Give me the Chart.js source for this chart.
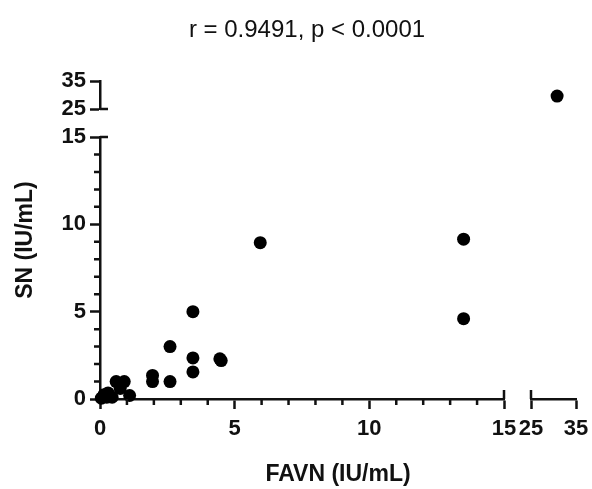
<!DOCTYPE html>
<html>
<head>
<meta charset="utf-8">
<script src="https://cdn.jsdelivr.net/npm/chart.js@4"></script>
<style>
  html, body { margin: 0; padding: 0; background: #fff; }
  #wrap { width: 592px; height: 489px; }
</style>
</head>
<body>
<div id="wrap"><canvas id="chart"></canvas></div>
<script>
// FAVN vs SN titres (IU/mL)
const favn = [0.05, 0.15, 0.25, 0.35, 0.45, 0.3, 1.1, 0.6, 0.9, 0.75,
  1.95, 1.95, 2.6, 2.6, 3.45, 3.45, 3.45, 4.45, 4.5, 5.95, 13.5, 13.5];
const sn = [0.05, 0.25, 0.1, 0.2, 0.1, 0.35, 0.2, 1.0, 1.0, 0.6,
  1.35, 1.0, 3.0, 1.0, 5.0, 2.35, 1.55, 2.3, 2.2, 8.95, 9.15, 4.6];
// the one sample above the axis breaks
const favnHigh = [30.8];
const snHigh = [29.6];

const xTicks = [0, 5, 10, 15];
const xUpperTicks = [25, 35];
const yTicks = [0, 5, 10, 15];
const yUpperTicks = [25, 35];
const minorTicks = [1, 2, 3, 4, 6, 7, 8, 9, 11, 12, 13, 14];
const subtitle = 'r = 0.9491, p < 0.0001';

const INK = '#111';
const DOT = '#000';
const AXIS_W = 2.5;
Chart.defaults.font.family = "'Liberation Sans', Arial, sans-serif";
Chart.defaults.color = INK;

const tickFont = { size: 22, weight: 'bold' };
const setTicks = arr => scale => { scale.ticks = arr.map(v => ({ value: v })); };
const fixWidth = w => scale => { scale.width = w; };
// x segments: fixed height, and no label overhang eating into the plot width
const fixHeight = h => scale => {
  scale.height = h;
  scale.paddingLeft = 0;
  scale.paddingRight = 0;
};

// one segment of a broken axis
function segment(axis, pos, stack, weight, stackWeight, min, max, ticks) {
  return {
    type: 'linear', axis: axis, position: pos, stack: stack,
    weight: weight, stackWeight: stackWeight,
    min: min, max: max,
    afterBuildTicks: setTicks(ticks),
    afterFit: axis === 'y' ? fixWidth(60) : fixHeight(40),
    border: { display: true, color: INK, width: AXIS_W },
    grid: { drawOnChartArea: false, drawTicks: true, tickLength: 10, tickWidth: AXIS_W, tickColor: INK },
    ticks: { font: tickFont, padding: axis === 'y' ? 4 : 7, maxRotation: 0, autoSkip: false, color: INK }
  };
}

function gap(axis, pos, stack, weight, stackWeight) {
  return {
    type: 'linear', axis: axis, position: pos, stack: stack,
    weight: weight, stackWeight: stackWeight, min: 0, max: 1, display: false
  };
}

function titleOnly(axis, pos, weight, text, size, pad) {
  return {
    type: 'linear', axis: axis, position: pos, weight: weight, min: 0, max: 1,
    afterFit: axis === 'y' ? fixWidth(size) : fixHeight(size),
    border: { display: false }, grid: { display: false }, ticks: { display: false },
    title: { display: true, text: text, color: INK, font: { size: 23, weight: 'bold' }, padding: pad }
  };
}

// subtitle, minor ticks and axis-break marks
const extras = {
  id: 'extras',
  afterDraw(chart) {
    const { ctx, scales } = chart;
    ctx.save();
    ctx.fillStyle = INK;
    ctx.font = "24px 'Liberation Sans', Arial, sans-serif";
    ctx.textAlign = 'center';
    ctx.textBaseline = 'alphabetic';
    ctx.fillText(subtitle, 307, 37);

    ctx.strokeStyle = INK;
    ctx.lineWidth = AXIS_W;
    ctx.beginPath();
    const ax = scales.y.right;
    const ay = scales.x.top;
    minorTicks.forEach(v => {
      const py = scales.y.getPixelForValue(v);
      ctx.moveTo(ax - 6, py); ctx.lineTo(ax, py);
      const px = scales.x.getPixelForValue(v);
      ctx.moveTo(px, ay); ctx.lineTo(px, ay + 6);
    });
    // break marks cross the axis
    [scales.y.getPixelForValue(15), scales.y2.getPixelForValue(25)].forEach(py => {
      ctx.moveTo(ax, py); ctx.lineTo(ax + 8, py);
    });
    [scales.x.getPixelForValue(15), scales.x2.getPixelForValue(25)].forEach(px => {
      ctx.moveTo(px, ay); ctx.lineTo(px, ay - 9);
    });
    ctx.stroke();
    ctx.restore();
  }
};

const dotStyle = {
  pointRadius: 6.5, pointHoverRadius: 6.5,
  backgroundColor: DOT, borderColor: DOT, borderWidth: 0, clip: false
};

new Chart(document.getElementById('chart'), {
  type: 'scatter',
  data: {
    datasets: [Object.assign({
      data: favn.map((v, i) => ({ x: v, y: sn[i] })),
      xAxisID: 'x', yAxisID: 'y'
    }, dotStyle), Object.assign({
      data: favnHigh.map((v, i) => ({ x: v, y: snHigh[i] })),
      xAxisID: 'x2', yAxisID: 'y2'
    }, dotStyle)]
  },
  options: {
    responsive: true,
    maintainAspectRatio: false,
    animation: false,
    layout: { padding: { top: 81, right: 16, bottom: 0, left: 0 } },
    plugins: { legend: { display: false }, tooltip: { enabled: false }, colors: { enabled: false } },
    scales: {
      yTitle: titleOnly('y', 'left', 10, 'SN (IU/mL)', 40, { top: 12, bottom: 0 }),
      y2: segment('y', 'left', 'ys', 3, 28, 25, 35, yUpperTicks),
      yGap: gap('y', 'left', 'ys', 2, 28),
      y: segment('y', 'left', 'ys', 1, 262, 0, 15, yTicks),
      x: segment('x', 'bottom', 'xs', 1, 404, 0, 15, xTicks),
      xGap: gap('x', 'bottom', 'xs', 2, 27),
      x2: segment('x', 'bottom', 'xs', 3, 45, 25, 35, xUpperTicks),
      xTitle: titleOnly('x', 'bottom', 10, 'FAVN (IU/mL)', 50, { top: 0, bottom: 1 })
    }
  },
  plugins: [extras]
});
</script>
</body>
</html>
